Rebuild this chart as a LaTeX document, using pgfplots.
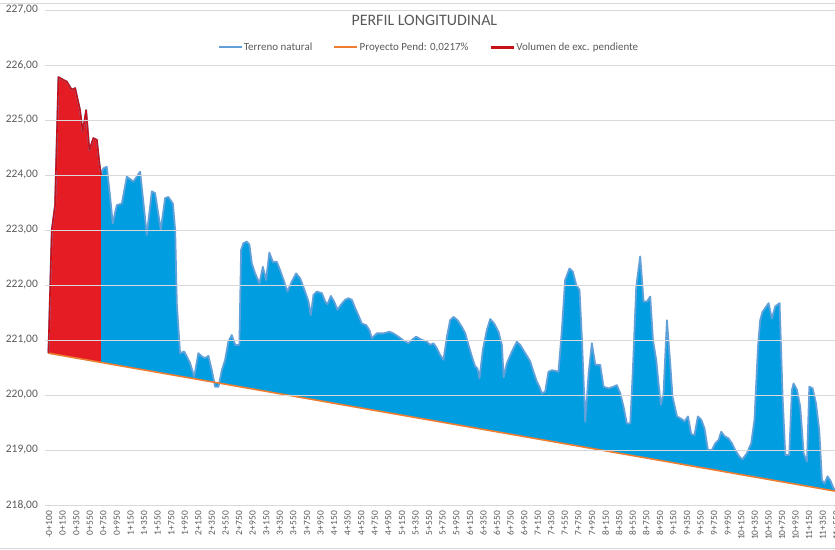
\documentclass[border=0pt]{standalone}
\usepackage{pgfplots}
\pgfplotsset{compat=1.18}
\usepackage{pgfplotstable}
\usepgfplotslibrary{fillbetween}
\usepackage{fontspec}
\setmainfont{Carlito}
\definecolor{txt}{RGB}{89,89,89}
\definecolor{gridc}{RGB}{217,217,217}
\definecolor{terrline}{RGB}{98,160,218}
\definecolor{terrfill}{RGB}{0,158,224}
\definecolor{proj}{RGB}{237,125,49}
\definecolor{redfill}{RGB}{230,28,36}
\definecolor{redline}{RGB}{200,16,24}

\pgfplotstableread{
x y
-0.05 220.76
0.20 223.00
0.44 223.45
0.69 225.78
1.05 225.73
1.30 225.70
1.67 225.55
1.92 225.58
2.28 225.18
2.48 224.79
2.73 225.18
2.97 224.45
3.26 224.67
3.52 224.64
3.71 224.21
3.83 224.00
4.00 224.12
4.25 224.15
4.50 223.60
4.69 223.12
4.99 223.45
5.36 223.48
5.73 223.97
6.21 223.88
6.71 224.06
7.20 222.91
7.57 223.70
7.81 223.67
8.23 223.00
8.55 223.58
8.79 223.60
9.12 223.48
9.29 223.00
9.41 221.67
9.65 220.76
9.95 220.79
10.15 220.70
10.39 220.58
10.69 220.33
11.00 220.76
11.25 220.70
11.50 220.67
11.74 220.71
11.99 220.45
12.23 220.15
12.48 220.15
12.73 220.45
12.97 220.64
13.21 220.97
13.46 221.09
13.71 220.91
14.02 220.91
14.15 222.64
14.32 222.76
14.57 222.79
14.76 222.73
14.94 222.39
15.18 222.21
15.50 222.03
15.75 222.33
15.99 222.09
16.23 222.59
16.48 222.42
16.78 222.42
17.02 222.27
17.32 222.06
17.56 221.88
17.88 222.06
18.20 222.21
18.50 222.12
18.86 221.88
19.11 221.70
19.28 221.45
19.48 221.82
19.73 221.88
20.10 221.85
20.34 221.70
20.51 221.65
20.76 221.80
21.00 221.70
21.25 221.55
21.50 221.64
21.81 221.73
22.06 221.76
22.31 221.73
22.55 221.58
22.79 221.45
23.04 221.30
23.36 221.27
23.60 221.18
23.78 221.03
24.15 221.12
24.63 221.12
25.08 221.15
25.37 221.12
25.74 221.06
26.11 220.99
26.48 220.94
26.73 221.00
27.04 221.06
27.47 221.00
27.83 220.97
28.08 220.91
28.32 220.94
28.57 220.85
28.81 220.73
29.06 220.64
29.31 221.06
29.55 221.36
29.79 221.42
30.09 221.36
30.41 221.24
30.66 221.12
30.90 220.91
31.15 220.70
31.39 220.52
31.56 220.48
31.71 220.30
31.96 220.82
32.25 221.18
32.50 221.38
32.79 221.30
33.11 221.15
33.36 220.91
33.49 220.32
33.73 220.58
34.10 220.79
34.46 220.97
34.71 220.91
35.08 220.76
35.45 220.61
35.69 220.42
35.94 220.24
36.13 220.15
36.31 220.03
36.55 220.06
36.79 220.42
37.04 220.45
37.29 220.44
37.53 220.42
37.78 221.18
38.02 222.09
38.34 222.30
38.59 222.24
38.84 222.00
39.08 221.91
39.26 221.00
39.50 219.51
39.75 220.39
39.99 220.94
40.24 220.55
40.60 220.55
40.85 220.15
41.22 220.12
41.58 220.15
41.83 220.18
42.08 220.03
42.32 219.79
42.57 219.48
42.82 219.48
43.01 220.45
43.26 221.97
43.55 222.52
43.80 221.70
44.05 221.70
44.29 221.79
44.49 221.00
44.73 220.64
44.90 220.21
45.08 219.82
45.27 220.03
45.52 221.36
45.76 220.58
45.93 219.97
46.26 219.61
46.62 219.56
46.82 219.52
47.07 219.61
47.31 219.29
47.55 219.27
47.80 219.61
48.05 219.55
48.29 219.39
48.54 219.00
48.84 219.00
49.08 219.12
49.32 219.18
49.52 219.33
49.77 219.25
50.06 219.21
50.31 219.12
50.55 219.00
50.85 218.88
51.09 218.83
51.41 218.94
51.73 219.12
51.97 219.55
52.23 220.88
52.39 221.36
52.56 221.51
52.76 221.58
53.01 221.67
53.25 221.39
53.50 221.61
53.82 221.67
54.04 219.97
54.24 218.91
54.53 218.91
54.73 220.09
54.85 220.21
55.10 220.09
55.34 219.79
55.59 218.94
55.84 218.79
56.01 220.15
56.25 220.12
56.50 219.85
56.74 219.36
56.94 218.45
57.13 218.39
57.35 218.52
57.55 218.45
57.80 218.30
58.20 218.26
}\terrain

\pgfplotstableread{
x y
-0.05 220.76
0.20 223.00
0.44 223.45
0.69 225.78
1.05 225.73
1.30 225.70
1.67 225.55
1.92 225.58
2.28 225.18
2.48 224.79
2.73 225.18
2.97 224.45
3.26 224.67
3.52 224.64
3.71 224.21
3.83 224.00
}\redsec

\pgfplotstableread{
x y
-0.05 220.76
58.20 218.24
}\proyecto

\begin{document}
\begin{tikzpicture}
\begin{axis}[
  width=792bp, height=495bp, scale only axis,
  xmin=-0.3, xmax=58.05, ymin=218, ymax=227,
  ytick={218,219,...,227},
  xtick={0,1,...,60},
  xticklabels={-0+100,0+150,0+350,0+550,0+750,0+950,1+150,1+350,1+550,1+750,1+950,2+150,2+350,2+550,2+750,2+950,3+150,3+350,3+550,3+750,3+950,4+150,4+350,4+550,4+750,4+950,5+150,5+350,5+550,5+750,5+950,6+150,6+350,6+550,6+750,6+950,7+150,7+350,7+550,7+750,7+950,8+150,8+350,8+550,8+750,8+950,9+150,9+350,9+550,9+750,9+950,10+150,10+350,10+550,10+750,10+950,11+150,11+350,11+550,11+750},
  x tick label style={rotate=90, anchor=east, font=\fontsize{9.5}{10}\selectfont, text=txt, inner sep=0pt},
  xticklabel shift=6bp,
  y tick label style={font=\fontsize{11.5}{13}\selectfont, text=txt, inner sep=0pt},
  yticklabel shift=7bp,
  yticklabel style={/pgf/number format/.cd, fixed, fixed zerofill, precision=2, use comma, assume math mode=true},
  ymajorgrids, grid style={gridc, line width=0.75pt},
  axis line style={draw=none},
  major tick length=0pt,
  axis on top,
  legend style={at={(0.484,0.925)}, anchor=center, draw=none, fill=none,
    font=\fontsize{11}{13}\selectfont, text=txt,
    /tikz/every even column/.append style={column sep=20bp},
    nodes={inner sep=1bp}},
  legend columns=3,
  legend cell align=left,
]
\addplot[name path=T, draw=none, forget plot] table {\terrain};
\addplot[name path=P, draw=none, forget plot] table {\proyecto};
\addplot[fill=redfill, draw=none, forget plot] fill between[of=T and P, soft clip={domain=-0.05:3.83}];
\addplot[fill=terrfill, draw=none, forget plot] fill between[of=T and P, soft clip={domain=3.83:58.2}];
\addplot[terrline, line width=1.8pt, line join=round, legend image code/.code={\draw[terrline, line width=2.4pt] (0bp,0bp) -- (23bp,0bp);}] table {\terrain};
\addlegendentry{Terreno natural}
\addplot[proj, line width=1.6pt, legend image code/.code={\draw[proj, line width=2.4pt] (0bp,0bp) -- (23bp,0bp);}] table {\proyecto};
\addlegendentry{Proyecto Pend: 0,0217\%}
\addplot[redline, line width=1.6pt, line join=round, legend image code/.code={\draw[redline, line width=3pt] (0bp,0bp) -- (23bp,0bp);}] table {\redsec};
\addlegendentry{Volumen de exc. pendiente}
\node[font=\fontsize{16}{19}\selectfont, text=txt] at (rel axis cs:0.479,0.98) {PERFIL LONGITUDINAL};
\coordinate (ll) at (rel axis cs:0,0);
\coordinate (ur) at (rel axis cs:1,1);
\end{axis}
\path (ll) ++(-45bp,-43bp) coordinate (bl);
\path (ll) ++(790bp,0) coordinate (rr);
\path (ur) ++(0,7bp) coordinate (tr);
\draw[gridc, line width=0.75pt] (bl) -- (bl -| rr);
\draw[gridc, line width=0.75pt] (tr) -- (tr -| bl);
\path (ll) ++(-45bp,-45bp) coordinate (bb1);
\path (rr |- ur) ++(0,10bp) coordinate (bb2);
\pgfresetboundingbox
\useasboundingbox (bb1) rectangle (bb2);
\end{tikzpicture}
\end{document}
